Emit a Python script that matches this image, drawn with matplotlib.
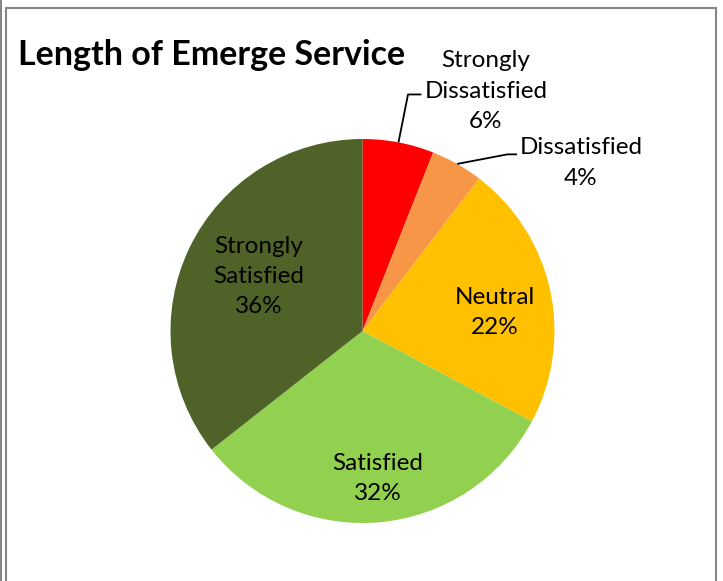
import numpy as np
import matplotlib.pyplot as plt
from matplotlib.patches import Rectangle

plt.rcParams["font.family"] = ["Lato", "DejaVu Sans"]

categories = ["Strongly\nDissatisfied", "Dissatisfied", "Neutral", "Satisfied", "Strongly\nSatisfied"]
values = [6.0, 4.4, 22.4, 31.6, 35.6]  # percent
colors = ["#FF0000", "#F79646", "#FFC000", "#92D050", "#4F6228"]

# label centres in data units (pie radius = 1)
label_pos = [(0.643, 1.25), (1.138, 0.875), (0.69, 0.096), (0.08, -0.768), (-0.539, 0.284)]

fig = plt.figure(figsize=(7.23, 5.81), dpi=100)
W, H = 723, 581

# chart frame
fig.patches.append(Rectangle((6.5 / W, -0.01), 709 / W, (H - 8) / H + 0.01,
                             transform=fig.transFigure, fill=False,
                             edgecolor="#868686", lw=1.5))
fig.patches.append(Rectangle((0.5 / W, -0.01), 0, 1.1, transform=fig.transFigure,
                             fill=False, edgecolor="#868686", lw=1.2))

cx, cy, r = 362.5, 331, 192
ax = fig.add_axes([(cx - r) / W, (H - cy - r) / H, 2 * r / W, 2 * r / H])
ax.pie(values, colors=colors, startangle=90, counterclock=False, radius=1,
       wedgeprops=dict(linewidth=0))
ax.set_xlim(-1, 1)
ax.set_ylim(-1, 1)
ax.set_aspect("equal")
ax.axis("off")

fracs = np.array(values) / sum(values)
mids = np.cumsum(fracs) - fracs / 2
for i, (lab, v) in enumerate(zip(categories, values)):
    tx, ty = label_pos[i]
    ax.text(tx, ty, f"{lab}\n{round(v)}%", ha="center", va="center", fontsize=17.5,
            linespacing=1.55, color="black", clip_on=False)

# leader lines for the two small slices
for i, (ex, ey, ln) in zip([0, 1], [(0.237, 1.232, 0.07), (0.755, 0.92, 0.05)]):
    a = np.pi / 2 - 2 * np.pi * mids[i]
    ax0, ay0 = np.cos(a), np.sin(a)
    ax.plot([ax0, ex, ex + ln], [ay0, ey, ey], color="black", lw=1.3,
            clip_on=False, solid_capstyle="butt")

fig.text(18 / W, 1 - 55 / H, "Length of Emerge Service", fontsize=24.5,
         fontweight="bold", ha="left", va="center")

fig.savefig("out.png", dpi=100)
